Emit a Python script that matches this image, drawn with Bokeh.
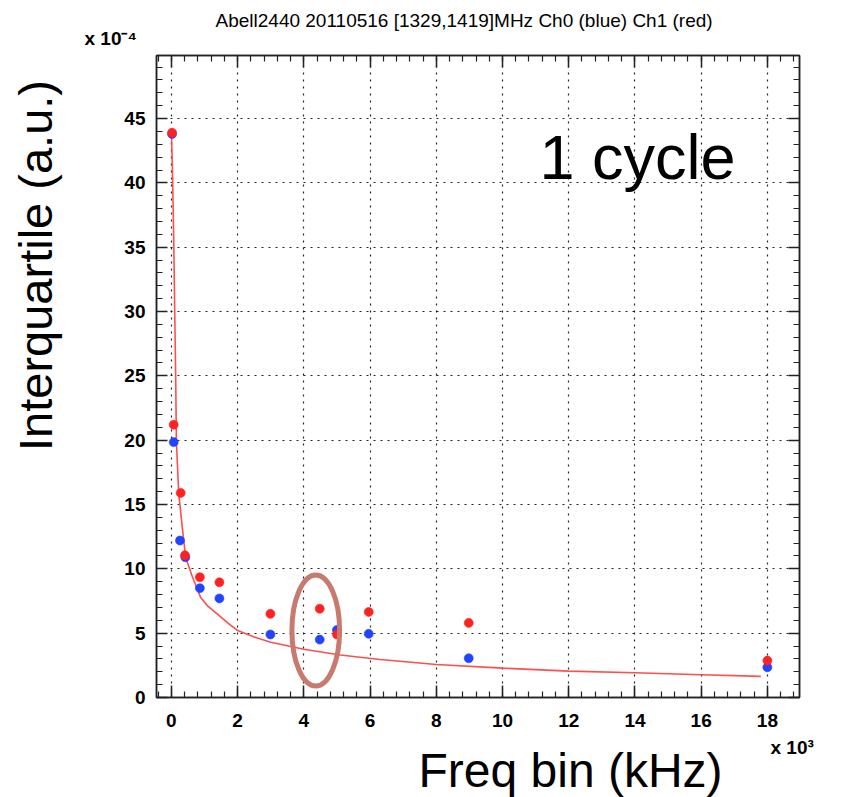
import math
from bokeh.plotting import figure
from bokeh.models import (Range1d, SingleIntervalTicker, LinearAxis, Label, Title,
                          CustomJSTickFormatter)
from bokeh.embed import file_html
from bokeh.resources import INLINE

# ---------------- data (x in 10^3 kHz, y in 10^-4 a.u.) ----------------
bin_khz_red = [0.02, 0.07, 0.28, 0.41, 0.86, 1.45, 2.99, 4.48, 5.0, 5.96, 8.98, 18.0]
iqr_red = [43.9, 21.2, 15.9, 11.05, 9.35, 8.95, 6.5, 6.9, 4.9, 6.65, 5.8, 2.87]
bin_khz_blue = [0.02, 0.07, 0.26, 0.42, 0.86, 1.45, 2.99, 4.48, 5.0, 5.96, 8.98, 18.0]
iqr_blue = [43.8, 19.85, 12.2, 10.9, 8.5, 7.7, 4.9, 4.5, 5.25, 4.95, 3.05, 2.35]
fit_x = [0.0, 0.03, 0.07, 0.10, 0.13, 0.15, 0.22, 0.33, 0.43, 0.63, 0.88, 1.1, 1.38,
         1.7, 2.0, 2.5, 3.0, 4.0, 5.1, 6.3, 8.0, 10.0, 12.0, 14.0, 16.0, 17.8]
fit_y = [43.9, 41.2, 35.7, 30.1, 24.9, 20.0, 15.9, 13.2, 10.9, 9.4, 7.8, 7.1, 6.5,
         5.8, 5.2, 4.7, 4.3, 3.75, 3.3, 2.95, 2.57, 2.28, 2.05, 1.92, 1.77, 1.64]
highlight = dict(x=4.36, y=5.2, w=1.44, h=8.63)

title_text = "Abell2440 20110516 [1329,1419]MHz Ch0 (blue) Ch1 (red)"
y_scale_text = "x 10\u207b\u2074"
x_scale_text = "x 10\u00b3"
x_title = "Freq bin (kHz)"
y_title = "Interquartile (a.u.)"
note_text = "1 cycle"

# ---------------- geometry ----------------
W, H = 848, 797
FL, FR, FT, FB = 156, 799, 55, 697
X0, X1 = -0.45, 18.97
Y0, Y1 = 0.0, 49.9

def dx(px):
    return X0 + (px - FL) / (FR - FL) * (X1 - X0)

def dy(py):
    return Y0 + (FB - py) / (FB - FT) * (Y1 - Y0)

p = figure(width=W, height=H, x_range=Range1d(X0, X1), y_range=Range1d(Y0, Y1),
           output_backend="svg", toolbar_location=None,
           min_border_left=FL, min_border_right=W - FR,
           min_border_top=FT, min_border_bottom=H - FB)
p.background_fill_color = "white"
p.border_fill_color = "white"
p.outline_line_color = "#222222"
p.outline_line_width = 1.5

# axes styling
def style_axis(ax, interval, tin, standoff, labels=True):
    ax.ticker = SingleIntervalTicker(interval=interval, num_minor_ticks=5)
    ax.major_tick_in = tin
    ax.major_tick_out = 0
    ax.minor_tick_in = 6
    ax.minor_tick_out = 0
    ax.axis_line_color = "#222222"
    ax.axis_line_width = 1.5
    ax.major_tick_line_color = "#222222"
    ax.major_tick_line_width = 1.5
    ax.minor_tick_line_color = "#222222"
    ax.minor_tick_line_width = 1.2
    ax.major_label_text_font = "Liberation Sans"
    ax.major_label_text_font_style = "bold"
    ax.major_label_text_font_size = "19px"
    ax.major_label_text_color = "black"
    ax.major_label_standoff = standoff
    if not labels:
        ax.formatter = CustomJSTickFormatter(code="return ''")
        ax.major_label_text_font_size = "1px"
        ax.major_label_standoff = 0

style_axis(p.xaxis[0], 2, 12, 16)
style_axis(p.yaxis[0], 5, 11, 11)
top_ax = LinearAxis()
style_axis(top_ax, 2, 12, 0, labels=False)
right_ax = LinearAxis()
style_axis(right_ax, 5, 11, 0, labels=False)
p.add_layout(top_ax, "above")
p.add_layout(right_ax, "right")

# y axis title (shifted upward along the axis by leading no-break spaces)
yax = p.yaxis[0]
yax.axis_label = "\u00a0" * 17 + y_title
yax.axis_label_text_font = "Liberation Sans"
yax.axis_label_text_font_size = "47px"
yax.axis_label_text_font_style = "normal"
yax.axis_label_text_color = "black"
yax.axis_label_standoff = 59

for g in (p.xgrid[0], p.ygrid[0]):
    g.grid_line_color = "black"
    g.grid_line_alpha = 0.85
    g.grid_line_dash = "2 5"
    g.grid_line_width = 1.2

# fit curve and points
p.line(fit_x, fit_y, line_color="#ff3b3b", line_width=1.6, line_alpha=0.9)
p.scatter(bin_khz_blue, iqr_blue, size=9, fill_color="#2244ff", line_color="#2244ff", line_alpha=0.6)
p.scatter(bin_khz_red, iqr_red, size=9, fill_color="#ff2222", line_color="#ff2222", line_alpha=0.6)

# highlight ellipse
p.ellipse(x=[highlight["x"]], y=[highlight["y"]], width=[highlight["w"]], height=[highlight["h"]],
          fill_color=None, line_color="#c87a6e", line_width=5)

# text inside the frame
p.add_layout(Label(x=dx(539), y=dy(156), text=note_text, text_font="Liberation Sans",
                   text_font_size="63px", text_baseline="alphabetic", text_color="black"))

# texts outside the frame: titles stacked in side panels
def title(text, size, bold=False, align="left", valign="bottom", offset=0, standoff=0):
    return Title(text=text, text_font="Liberation Sans", text_font_size=size,
                 text_font_style="bold" if bold else "normal", align=align,
                 vertical_align=valign, offset=offset, standoff=standoff,
                 text_color="black")

p.add_layout(title(y_scale_text, "19px", bold=True, align="left", valign="bottom",
                   offset=-72, standoff=13), "above")
p.add_layout(title(title_text, "19px", align="left", valign="bottom",
                   offset=59, standoff=-23), "above")
p.add_layout(title(x_scale_text, "19px", bold=True, align="left", valign="top",
                   offset=614, standoff=14), "below")
p.add_layout(title(x_title, "48px", align="left", valign="top",
                   offset=262, standoff=-46), "below")

open("out.html", "w").write(file_html(p, INLINE))
